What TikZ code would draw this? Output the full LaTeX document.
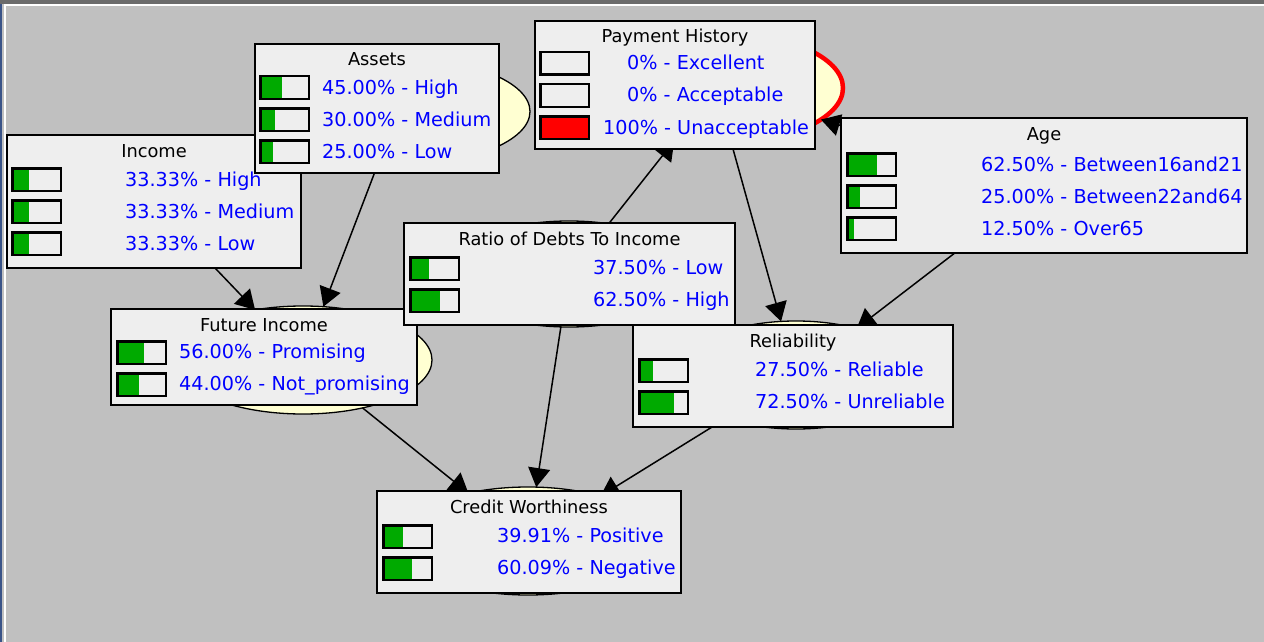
\documentclass[tikz,border=0pt]{standalone}
\usepackage{fontspec}
\setmainfont{DejaVu Sans}
\usetikzlibrary{arrows.meta,shapes.geometric}

\definecolor{canvas}{HTML}{C0C0C0}
\definecolor{boxbg}{HTML}{EEEEEE}
\definecolor{valblue}{HTML}{0000FF}
\definecolor{bargreen}{HTML}{00AA00}
\definecolor{ellfill}{HTML}{FFFFD2}
\definecolor{topband}{HTML}{6B6B6B}
\definecolor{sideband}{HTML}{3A5488}

\tikzset{
  varell/.style 2 args={ellipse, minimum width=#1, minimum height=#2,
    inner sep=0pt, outer sep=0pt, draw=black, line width=1.3pt, fill=ellfill},
  link/.style={line width=1.5pt, -{Triangle[length=19pt,width=22pt]}},
  panelbox/.style={rectangle, draw=black, line width=2.5pt, fill=boxbg,
    inner sep=0pt, outer sep=0pt, anchor=north west},
  titletext/.style={anchor=base, inner sep=0pt, text=black,
    font=\fontsize{17.8}{20}\selectfont},
  valtext/.style={anchor=base west, inner sep=0pt, text=valblue,
    font=\fontsize{19.2}{22}\selectfont},
}

% panel: name, left, top, width, height, title
\newcommand\panel[6]{%
  \node[panelbox, minimum width=#4pt, minimum height=#5pt] (#1) at (#2,#3) {};
  \node[titletext] (#1-title) at ([yshift=-22pt]#1.north) {#6};
}
% probability bar: left, top, fraction, colour
\newcommand\pbar[4]{%
  \fill[boxbg] (#1,#2) rectangle ++(51,25);
  \fill[#4] ({#1+2.5},{#2+2.5}) rectangle ++({46*#3},20);
  \draw[line width=2.5pt] ({#1+1.25},{#2+1.25}) rectangle ++(48.5,22.5);
}

\begin{document}
\begin{tikzpicture}[x=1pt, y=-1pt]
  % window background and frame
  \fill[canvas] (0,0) rectangle (1264,642);
  \useasboundingbox (0,0) rectangle (1264,642);
  \fill[topband] (0,0) rectangle (1264,4);
  \fill[sideband] (0,4) rectangle (2.3,642);
  \fill[white] (4,4) rectangle (1264,5.8);
  \fill[white] (4,4) rectangle (5.8,642);

  % variable ellipses (mostly covered by the probability panels)
  \node[varell={260pt}{108pt}] (income) at (150,200) {};
  \node[varell={264pt}{107pt}] (assets) at (398,111.5) {};
  \node[varell={254pt}{112pt}, draw=red, line width=4.5pt] (payhist) at (716,88) {};
  \node[varell={260pt}{108pt}] (age) at (1042,186) {};
  \node[varell={250pt}{106pt}] (ratio) at (569,274) {};
  \node[varell={258pt}{108pt}] (future) at (303,360) {};
  \node[varell={240pt}{108pt}] (reliab) at (796,375) {};
  \node[varell={260pt}{108pt}] (credit) at (528,541) {};

  % dependencies
  \draw[link] (income) -- (future);
  \draw[link] (assets) -- (future);
  \draw[link] (ratio) -- (payhist);
  \draw[link] (age) -- (payhist);
  \draw[link] (payhist) -- (reliab);
  \draw[link] (age) -- (reliab);
  \draw[link] (future) -- (credit);
  \draw[link] (ratio) -- (credit);
  \draw[link] (reliab) -- (credit);

  % Income
  \panel{incomebox}{7}{135}{294}{133}{Income}
  \pbar{11}{167}{0.3333}{bargreen}
  \pbar{11}{199}{0.3333}{bargreen}
  \pbar{11}{231}{0.3333}{bargreen}
  \node[valtext] (income-r1) at (125,186) {33.33\% - High};
  \node[valtext] (income-r2) at (125,218) {33.33\% - Medium};
  \node[valtext] (income-r3) at (125,250) {33.33\% - Low};

  % Assets
  \panel{assetsbox}{255}{44}{244}{129}{Assets}
  \pbar{259}{75}{0.45}{bargreen}
  \pbar{259}{107}{0.30}{bargreen}
  \pbar{259}{139}{0.25}{bargreen}
  \node[valtext] (assets-r1) at (322,94) {45.00\% - High};
  \node[valtext] (assets-r2) at (322,126) {30.00\% - Medium};
  \node[valtext] (assets-r3) at (322,158) {25.00\% - Low};

  % Payment History
  \panel{payhistbox}{535}{21}{280}{128}{Payment History}
  \pbar{539}{51}{0}{bargreen}
  \pbar{539}{83}{0}{bargreen}
  \pbar{539}{115}{1}{red}
  \node[valtext] (payhist-r1) at (627,70) {0\% - Excellent};
  \node[valtext] (payhist-r2) at (627,102) {0\% - Acceptable};
  \node[valtext] (payhist-r3) at (603,134) {100\% - Unacceptable};

  % Age
  \panel{agebox}{841}{118}{406}{135}{Age}
  \pbar{846}{152}{0.625}{bargreen}
  \pbar{846}{184}{0.25}{bargreen}
  \pbar{846}{216}{0.125}{bargreen}
  \node[valtext] (age-r1) at (981,171) {62.50\% - Between16and21};
  \node[valtext] (age-r2) at (981,203) {25.00\% - Between22and64};
  \node[valtext] (age-r3) at (981,235) {12.50\% - Over65};

  % Future Income
  \panel{futurebox}{111}{309}{306}{96}{Future Income}
  \pbar{116}{340}{0.56}{bargreen}
  \pbar{116}{372}{0.44}{bargreen}
  \node[valtext] (future-r1) at (179,358) {56.00\% - Promising};
  \node[valtext] (future-r2) at (179,390) {44.00\% - Not\_promising};

  % Ratio of Debts To Income
  \panel{ratiobox}{404}{223}{331}{102}{Ratio of Debts To Income}
  \pbar{409}{256}{0.375}{bargreen}
  \pbar{409}{288}{0.625}{bargreen}
  \node[valtext] (ratio-r1) at (593,274) {37.50\% - Low};
  \node[valtext] (ratio-r2) at (593,306) {62.50\% - High};

  % Reliability
  \panel{reliabbox}{633}{325}{320}{102}{Reliability}
  \pbar{638}{358}{0.275}{bargreen}
  \pbar{638}{390}{0.725}{bargreen}
  \node[valtext] (reliab-r1) at (755,376) {27.50\% - Reliable};
  \node[valtext] (reliab-r2) at (755,408) {72.50\% - Unreliable};

  % Credit Worthiness
  \panel{creditbox}{377}{491}{304}{102}{Credit Worthiness}
  \pbar{382}{524}{0.3991}{bargreen}
  \pbar{382}{556}{0.6009}{bargreen}
  \node[valtext] (credit-r1) at (497,542) {39.91\% - Positive};
  \node[valtext] (credit-r2) at (497,574) {60.09\% - Negative};
\end{tikzpicture}
\end{document}
